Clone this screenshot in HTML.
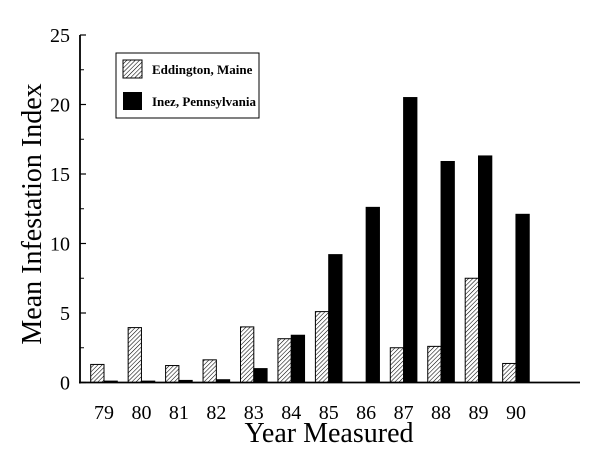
<!DOCTYPE html>
<html><head><meta charset="utf-8"><style>
body{margin:0;background:#fff;}
svg text{font-family:"Liberation Serif",serif;fill:#000;}
</style></head><body>
<svg width="600" height="452" viewBox="0 0 600 452">
<defs><pattern id="hatch" patternUnits="userSpaceOnUse" width="3" height="3" patternTransform="rotate(45)"><rect width="3" height="3" fill="#fff"/><line x1="0" y1="0" x2="0" y2="3" stroke="#000" stroke-width="1.1"/></pattern></defs>
<g id="plot"></g>
<g>
<rect x="116" y="53" width="143" height="65" fill="#fff" stroke="#000" stroke-width="1"/>
<rect x="123" y="60" width="19" height="18" fill="url(#hatch)" stroke="#000"/>
<text x="152" y="74" font-size="13" font-weight="bold">Eddington, Maine</text>
<rect x="123" y="92" width="19" height="18" fill="#000"/>
<text x="152" y="106" font-size="13" font-weight="bold">Inez, Pennsylvania</text>
</g>
<text x="329" y="442" font-size="28" text-anchor="middle">Year Measured</text>
<text transform="translate(41,214) rotate(-90)" font-size="28" text-anchor="middle">Mean Infestation Index</text>
</svg>
<script>
const categories=["79","80","81","82","83","84","85","86","87","88","89","90"];
const eddington=[1.3,3.95,1.22,1.63,4.0,3.15,5.1,0,2.5,2.6,7.5,1.37];
const inez=[0.1,0.1,0.15,0.2,1.0,3.4,9.2,12.6,20.5,15.9,16.3,12.1];
const yTicks=[0,5,10,15,20,25];
const NS="http://www.w3.org/2000/svg";
const g=document.getElementById('plot');
const y0=382.5,pxPer=13.9,x0=90.7,step=37.45,bw=13.3;
const yS=v=>y0-v*pxPer;
const xS=i=>x0+i*step;
function mk(t,a){const e=document.createElementNS(NS,t);for(const k in a)e.setAttribute(k,a[k]);g.appendChild(e);return e;}
categories.forEach((c,i)=>{
 let r=mk('rect',{x:xS(i),y:yS(eddington[i]),width:bw,height:eddington[i]*pxPer,fill:'url(#hatch)',stroke:'#000','stroke-width':1});
 
 
 let b=mk('rect',{x:xS(i)+bw,y:yS(inez[i]),width:bw,height:inez[i]*pxPer,fill:'#000',stroke:'#000','stroke-width':1});
 
 
 let t=mk('text',{x:xS(i)+bw,y:419,'font-size':20,'text-anchor':'middle'});
 t.textContent=c;
 
 
});
yTicks.forEach(v=>{
 let t=mk('text',{x:70,y:yS(v)+7,'font-size':20,'text-anchor':'end'});
 t.textContent=v;
 
 
 mk('line',{x1:80,x2:86,y1:yS(v),y2:yS(v),stroke:'#000','stroke-width':1.2});
 if(v<25) mk('line',{x1:80,x2:84,y1:yS(v+2.5),y2:yS(v+2.5),stroke:'#000','stroke-width':1});
});
let ya=mk('line',{x1:80,x2:80,y1:yS(25),y2:y0+1,stroke:'#000','stroke-width':1.8});


let xa=mk('line',{x1:79,x2:580,y1:y0,y2:y0,stroke:'#000','stroke-width':1.8});


</script>
</body></html>
